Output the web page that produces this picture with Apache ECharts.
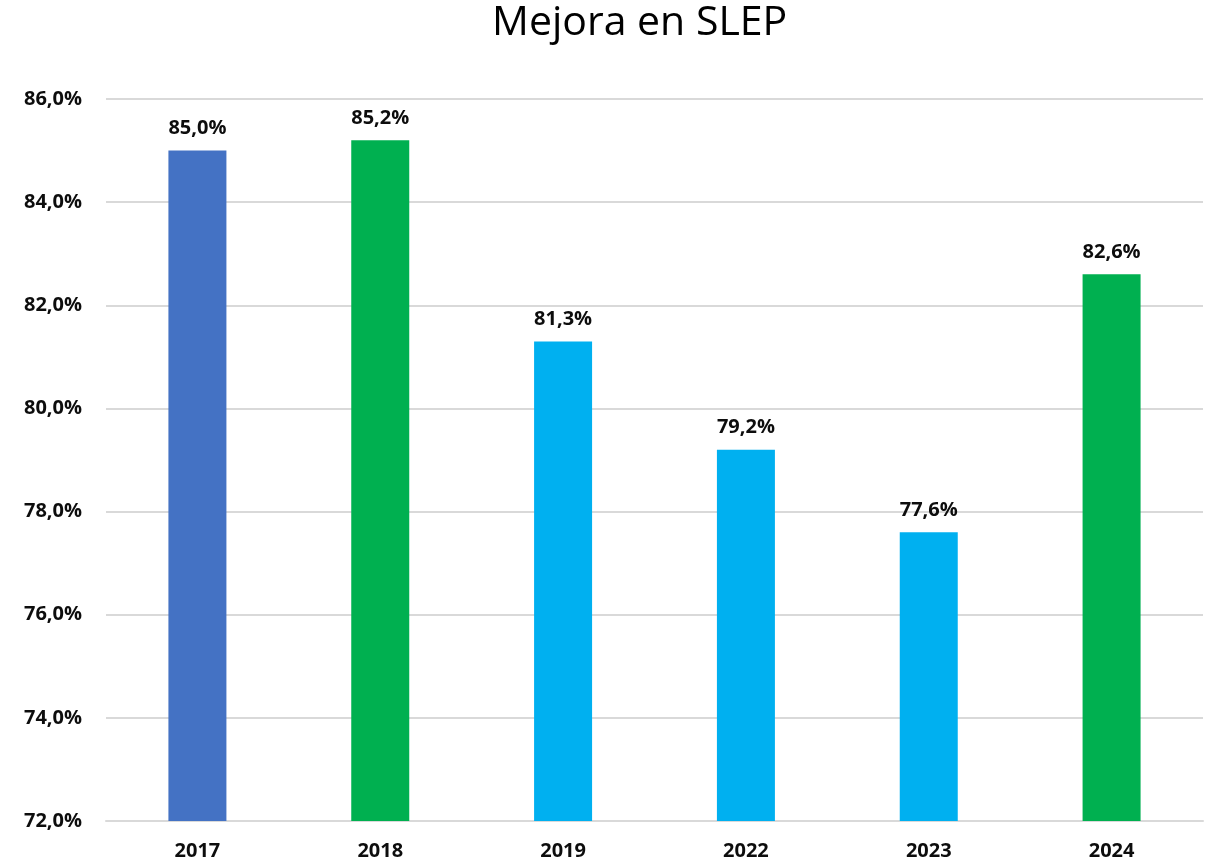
<!DOCTYPE html>
<html>
<head>
<meta charset="utf-8">
<script src="https://cdn.jsdelivr.net/npm/echarts@6/dist/echarts.min.js"></script>
<style>html,body{margin:0;padding:0;background:#fff;}#c{width:1205px;height:866px;}</style>
</head>
<body>
<div id="c"></div>
<script>
const categories = ['2017', '2018', '2019', '2022', '2023', '2024'];
const values = [85.0, 85.2, 81.3, 79.2, 77.6, 82.6];
const barColors = ['#4472C4', '#00B050', '#00B0F0', '#00B0F0', '#00B0F0', '#00B050'];
const yMin = 72, yMax = 86, yStep = 2;

const font = '"Open Sans", "Liberation Sans", sans-serif';
const chart = echarts.init(document.getElementById('c'), null, {renderer: 'canvas'});
chart.setOption({
  animation: false,
  title: {
    text: 'Mejora en SLEP', left: 487, top: -2,
    textStyle: {fontFamily: font, fontSize: 41, fontWeight: 'normal', color: '#000'}
  },
  grid: {left: 106, right: 2, top: 99, bottom: 45, containLabel: false},
  xAxis: {
    type: 'category', data: categories,
    axisLine: {lineStyle: {color: '#d9d9d9', width: 2}},
    axisTick: {show: false},
    axisLabel: {fontFamily: font, fontSize: 20, fontWeight: 'bold', color: '#0d0d0d', margin: 20}
  },
  yAxis: {
    type: 'value', min: yMin, max: yMax, interval: yStep,
    axisLine: {show: false}, axisTick: {show: false},
    splitLine: {lineStyle: {color: '#d9d9d9', width: 2}},
    axisLabel: {
      fontFamily: font, fontSize: 20, fontWeight: 'bold', color: '#0d0d0d', margin: 24,
      formatter: v => v.toFixed(1).replace('.', ',') + '%'
    }
  },
  series: [{
    type: 'bar', barWidth: 58,
    data: values.map((v, i) => ({value: v, itemStyle: {color: barColors[i]}})),
    label: {
      show: true, position: 'top', distance: 12,
      fontFamily: font, fontSize: 20, fontWeight: 'bold', color: '#0d0d0d',
      formatter: p => p.value.toFixed(1).replace('.', ',') + '%'
    }
  }]
});
</script>
</body>
</html>
